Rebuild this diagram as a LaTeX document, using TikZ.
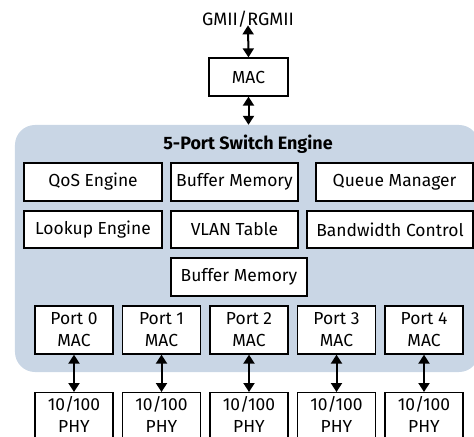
\documentclass[tikz,border=0pt]{standalone}
\usepackage{fontspec}
\setmainfont{Fira Sans}
\usetikzlibrary{arrows.meta}
\definecolor{panelblue}{RGB}{201,214,229}
\tikzset{
  boxtext/.style={inner sep=0pt, font=\fontsize{17.5}{22}\selectfont, align=center},
  box/.style={boxtext, draw=black, fill=white, line width=1.3bp},
  twoway/.style={{Triangle[width=11bp,length=9bp]}-{Triangle[width=11bp,length=9bp]}, line width=2bp},
}
\begin{document}
\begin{tikzpicture}[x=1bp,y=-1bp]
\useasboundingbox (0,0) rectangle (474,437);
% top interface
\node[font=\fontsize{18}{20}\selectfont, inner sep=0pt] (gmii) at (248,19) {GMII/RGMII};
\node[box, minimum width=79bp, minimum height=38bp] (mac) at (248.5,77) {MAC};
% panel
\node[draw=none, fill=panelblue, rounded corners=20bp, minimum width=464bp, minimum height=247bp, inner sep=0pt] (panel) at (247,248.5) {};
\node[font=\fontsize{18}{20}\selectfont\bfseries, inner sep=0pt] (title) at (248,144) {5-Port Switch Engine};
% row 1
\node[box, minimum width=138bp, minimum height=38bp] (qos) at (93,182) {QoS Engine};
\node[box, minimum width=127bp, minimum height=38bp] (buf1) at (234.5,182) {Buffer Memory};
\node[box, minimum width=157bp, minimum height=38bp] (queue) at (394.5,182) {Queue Manager};
% row 2
\node[box, minimum width=138bp, minimum height=37bp] (lookup) at (93,229.5) {Lookup Engine};
\node[box, minimum width=127bp, minimum height=37bp] (vlan) at (234.5,229.5) {VLAN Table};
\node[box, minimum width=166bp, minimum height=37bp] (bw) at (390,229.5) {Bandwidth Control};
% row 3
\node[box, minimum width=136bp, minimum height=38bp] (buf2) at (239,277) {Buffer Memory};
% ports
\foreach \i/\cx in {0/74, 1/161.5, 2/249, 3/336.5, 4/424} {
  \node[box, minimum width=78bp, minimum height=48bp] (port\i) at (\cx,330) {Port \i\\MAC};
  \node[box, minimum width=78bp, minimum height=60bp, anchor=north] (phy\i) at (\cx,392) {};
  \node[boxtext] (phytext\i) at (\cx,414.5) {10/100\\PHY};
  \draw[twoway] (port\i.south) -- (phy\i.north);
}
% arrows
\draw[twoway] (gmii.south) ++(0,2bp) -- (mac.north);
\draw[twoway] (mac.south) -- (mac.south |- panel.north);
\end{tikzpicture}
\end{document}
